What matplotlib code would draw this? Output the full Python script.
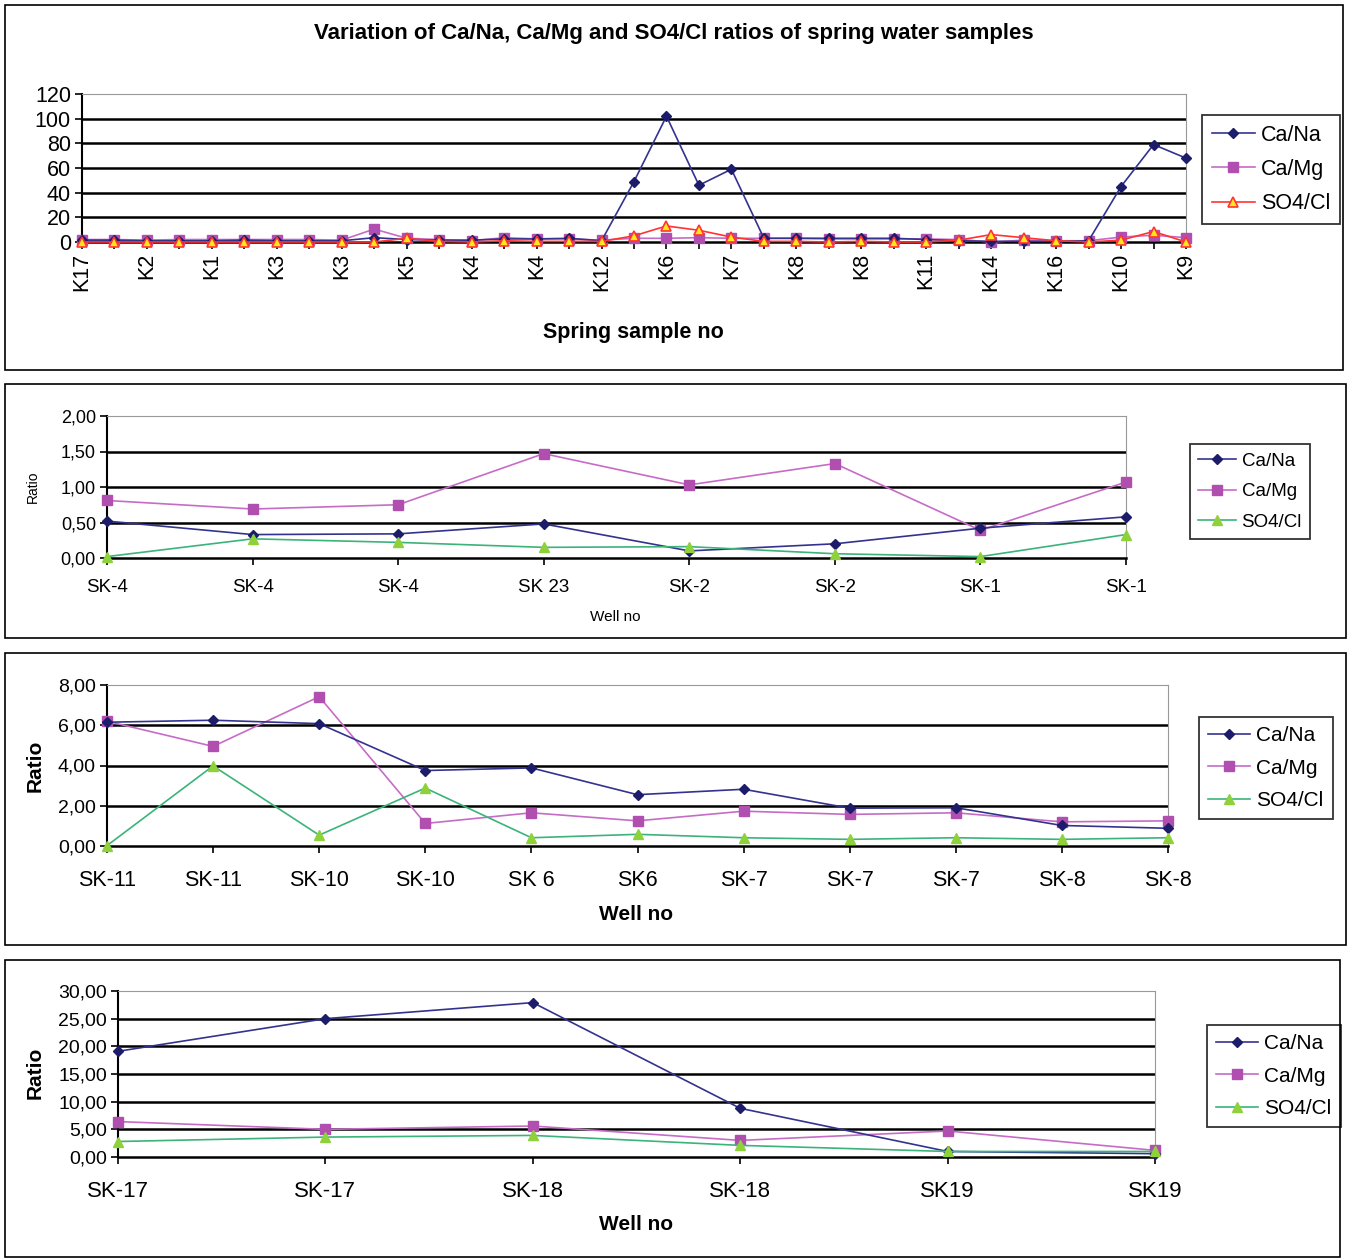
import matplotlib
matplotlib.use("Agg")
import matplotlib.pyplot as plt
from matplotlib.patches import Rectangle
from matplotlib.ticker import FuncFormatter, FixedLocator

plt.rcParams['font.family'] = ['Liberation Sans', 'DejaVu Sans']

# ---------------- data ----------------
series_names = ["Ca/Na", "Ca/Mg", "SO4/Cl"]

spring_labels = ["K17", "K2", "K1", "K3", "K3", "K5", "K4", "K4", "K12", "K6",
                 "K7", "K8", "K8", "K11", "K14", "K16", "K10", "K9"]
ca_na_1 = [1.5, 1.5, 1, 1, 1, 1.5, 1, 1, 1, 3.5, 2, 1.5, 1.5, 2.5, 2.5, 3, 1,
           49, 102, 46, 59, 3, 3, 3, 3, 3, 2, 1, 0.5, 0.5, 0.5, 1, 45, 79, 68]
ca_mg_1 = [2, 2, 1.5, 2, 2, 2, 2, 2, 1.5, 10.5, 3, 2, 1, 3.5, 2.5, 2.5, 1.5,
           3, 3, 3.5, 3, 3, 3, 2.5, 2.5, 2.5, 2.5, 2, 0, 1.5, 1, 1, 4, 5.5, 3.5]
so4_cl_1 = [0, 0, 0, 0, 0, 0, 0, 0, 0, 0, 3, 0.5, 0, 1, 0.5, 0.5, 0.5,
            5, 13, 9.5, 4, 0.5, 0.5, 0, 0.5, 0, 0, 1.5, 6, 3.5, 1, 0, 1.5, 8.5, 0]

wells_2 = ["SK-4", "SK-4", "SK-4", "SK 23", "SK-2", "SK-2", "SK-1", "SK-1"]
ca_na_2 = [0.52, 0.33, 0.34, 0.48, 0.10, 0.20, 0.42, 0.58]
ca_mg_2 = [0.81, 0.69, 0.75, 1.47, 1.03, 1.33, 0.39, 1.07]
so4_cl_2 = [0.02, 0.27, 0.22, 0.15, 0.16, 0.06, 0.02, 0.33]

wells_3 = ["SK-11", "SK-11", "SK-10", "SK-10", "SK 6", "SK6", "SK-7", "SK-7",
           "SK-7", "SK-8", "SK-8"]
ca_na_3 = [6.15, 6.25, 6.08, 3.75, 3.88, 2.55, 2.82, 1.88, 1.90, 1.02, 0.88]
ca_mg_3 = [6.20, 4.95, 7.42, 1.12, 1.65, 1.25, 1.73, 1.57, 1.65, 1.20, 1.25]
so4_cl_3 = [0.02, 3.98, 0.54, 2.88, 0.41, 0.58, 0.41, 0.33, 0.41, 0.33, 0.41]

wells_4 = ["SK-17", "SK-17", "SK-18", "SK-18", "SK19", "SK19"]
ca_na_4 = [19.1, 25.0, 27.9, 8.8, 1.0, 0.6]
ca_mg_4 = [6.4, 5.0, 5.6, 3.0, 4.7, 1.2]
so4_cl_4 = [2.8, 3.6, 3.9, 2.1, 1.0, 1.0]

title = "Variation of Ca/Na, Ca/Mg and SO4/Cl ratios of spring water samples"

# ---------------- figure ----------------
W, H = 1347, 1259
fig = plt.figure(figsize=(W / 100, H / 100), dpi=100)
fig.patch.set_facecolor("white")


def fx(px):
    return px / W


def fy(py):
    return 1 - py / H


def add_axes(x0, y0, x1, y1):
    return fig.add_axes([fx(x0), fy(y1), fx(x1) - fx(x0), fy(y0) - fy(y1)])


def frame(x0, y0, x1, y1):
    fig.patches.append(Rectangle((fx(x0), fy(y1)), fx(x1) - fx(x0), fy(y0) - fy(y1),
                                 transform=fig.transFigure, fill=False,
                                 edgecolor="black", linewidth=1.2))


NAVY_L, NAVY_M = "#33338f", "#1c1c6b"
MAG_L, MAG_M = "#c66cc6", "#b04fb0"
RED_L = "#ff3333"
GRN_L, GRN_M = "#3cb37a", "#8fd13a"


def style_axes(ax, ymax, ystep, fmt, fs):
    ax.set_ylim(0, ymax)
    ax.set_yticks([ystep * i for i in range(int(round(ymax / ystep)) + 1)])
    ax.yaxis.set_major_formatter(FuncFormatter(fmt))
    for v in ax.get_yticks()[1:-1]:
        ax.axhline(v, color="black", lw=1.8, zorder=1)
    ax.spines['top'].set_color("#999999")
    ax.spines['right'].set_color("#999999")
    ax.spines['left'].set_color("black")
    ax.spines['bottom'].set_color("black")
    ax.spines['left'].set_linewidth(1.5)
    ax.spines['bottom'].set_linewidth(1.8)
    ax.tick_params(axis='both', direction='out', length=5, width=1.2, labelsize=fs,
                   color="black", pad=3)


def plot_series(ax, x, a, b, c, third_style):
    ax.plot(x, a, color=NAVY_L, lw=1.2, marker="D", ms=5.5, mfc=NAVY_M, mec=NAVY_M,
            clip_on=False, zorder=4, label=series_names[0])
    ax.plot(x, b, color=MAG_L, lw=1.2, marker="s", ms=6.5, mfc=MAG_M, mec=MAG_M,
            clip_on=False, zorder=3, label=series_names[1])
    if third_style == "red":
        ax.plot(x, c, color=RED_L, lw=1.2, marker="^", ms=7, mfc="#ffe81a", mec=RED_L,
                mew=1.2, clip_on=False, zorder=5, label=series_names[2])
    else:
        ax.plot(x, c, color=GRN_L, lw=1.2, marker="^", ms=7, mfc=GRN_M, mec=GRN_M,
                clip_on=False, zorder=5, label=series_names[2])


def legend(ax, x0, y0, fs, spacing):
    lg = ax.legend(loc="upper left", bbox_to_anchor=(fx(x0), fy(y0)),
                   bbox_transform=fig.transFigure, fontsize=fs, frameon=True,
                   fancybox=False, edgecolor="black", borderaxespad=0,
                   handlelength=2.0, handletextpad=0.3, labelspacing=spacing,
                   borderpad=0.45)
    lg.get_frame().set_linewidth(1.3)
    return lg


int_fmt = lambda v, p: f"{v:.0f}"
dec_fmt = lambda v, p: f"{v:.2f}".replace(".", ",")

# ---- Panel 1 ----
frame(5, 5, 1343, 370)
fig.text(0.5004, fy(33), title, ha="center", va="center", fontsize=16,
         fontweight="bold")
ax1 = add_axes(82, 94, 1186, 242)
n1 = len(ca_na_1)
x1 = list(range(n1))
plot_series(ax1, x1, ca_na_1, ca_mg_1, so4_cl_1, "red")
style_axes(ax1, 120, 20, int_fmt, 15.5)
ax1.set_xlim(0, n1 - 1)
ax1.xaxis.set_major_locator(FixedLocator(list(range(0, n1, 2))))
ax1.xaxis.set_minor_locator(FixedLocator(list(range(1, n1, 2))))
ax1.set_xticklabels(spring_labels, rotation=90, fontsize=15.5)
ax1.tick_params(axis='x', which='minor', direction='out', length=5, width=1.2)
fig.text(fx(633), fy(333), "Spring sample no", ha="center", va="center",
         fontsize=15.5, fontweight="bold")
legend(ax1, 1202, 115, 15.5, 0.62)

# ---- Panel 2 ----
frame(5, 384, 1346, 638)
ax2 = add_axes(107, 416, 1126, 558)
x2 = list(range(len(wells_2)))
plot_series(ax2, x2, ca_na_2, ca_mg_2, so4_cl_2, "green")
style_axes(ax2, 2.0, 0.5, dec_fmt, 13)
ax2.set_xlim(0, len(wells_2) - 1)
ax2.set_xticks(x2)
ax2.set_xticklabels(wells_2, fontsize=13.5)
ax2.tick_params(axis='x', pad=10)
fig.text(fx(615), fy(617), "Well no", ha="center", va="center", fontsize=11)
fig.text(fx(33), fy(487), "Ratio", ha="center", va="center", fontsize=10,
         rotation=90)
legend(ax2, 1190, 444, 13.5, 0.72)

# ---- Panel 3 ----
frame(5, 653, 1346, 945)
ax3 = add_axes(107, 685, 1168, 846)
x3 = list(range(len(wells_3)))
plot_series(ax3, x3, ca_na_3, ca_mg_3, so4_cl_3, "green")
style_axes(ax3, 8.0, 2.0, dec_fmt, 14)
ax3.set_xlim(0, len(wells_3) - 1)
ax3.set_xticks(x3)
ax3.set_xticklabels(wells_3, fontsize=15.5)
ax3.tick_params(axis='x', pad=12)
fig.text(fx(636), fy(914), "Well no", ha="center", va="center", fontsize=15,
         fontweight="bold")
fig.text(fx(35), fy(766), "Ratio", ha="center", va="center", fontsize=15,
         fontweight="bold", rotation=90)
legend(ax3, 1199, 717, 15, 0.64)

# ---- Panel 4 ----
frame(5, 960, 1340, 1257)
ax4 = add_axes(118, 991, 1155, 1157)
x4 = list(range(len(wells_4)))
plot_series(ax4, x4, ca_na_4, ca_mg_4, so4_cl_4, "green")
style_axes(ax4, 30.0, 5.0, dec_fmt, 14)
ax4.set_xlim(0, len(wells_4) - 1)
ax4.set_xticks(x4)
ax4.set_xticklabels(wells_4, fontsize=16)
ax4.tick_params(axis='x', pad=12)
fig.text(fx(636), fy(1225), "Well no", ha="center", va="center", fontsize=15,
         fontweight="bold")
fig.text(fx(35), fy(1073), "Ratio", ha="center", va="center", fontsize=15,
         fontweight="bold", rotation=90)
legend(ax4, 1207, 1025, 15, 0.64)

fig.savefig("out.png", dpi=100, facecolor="white")
